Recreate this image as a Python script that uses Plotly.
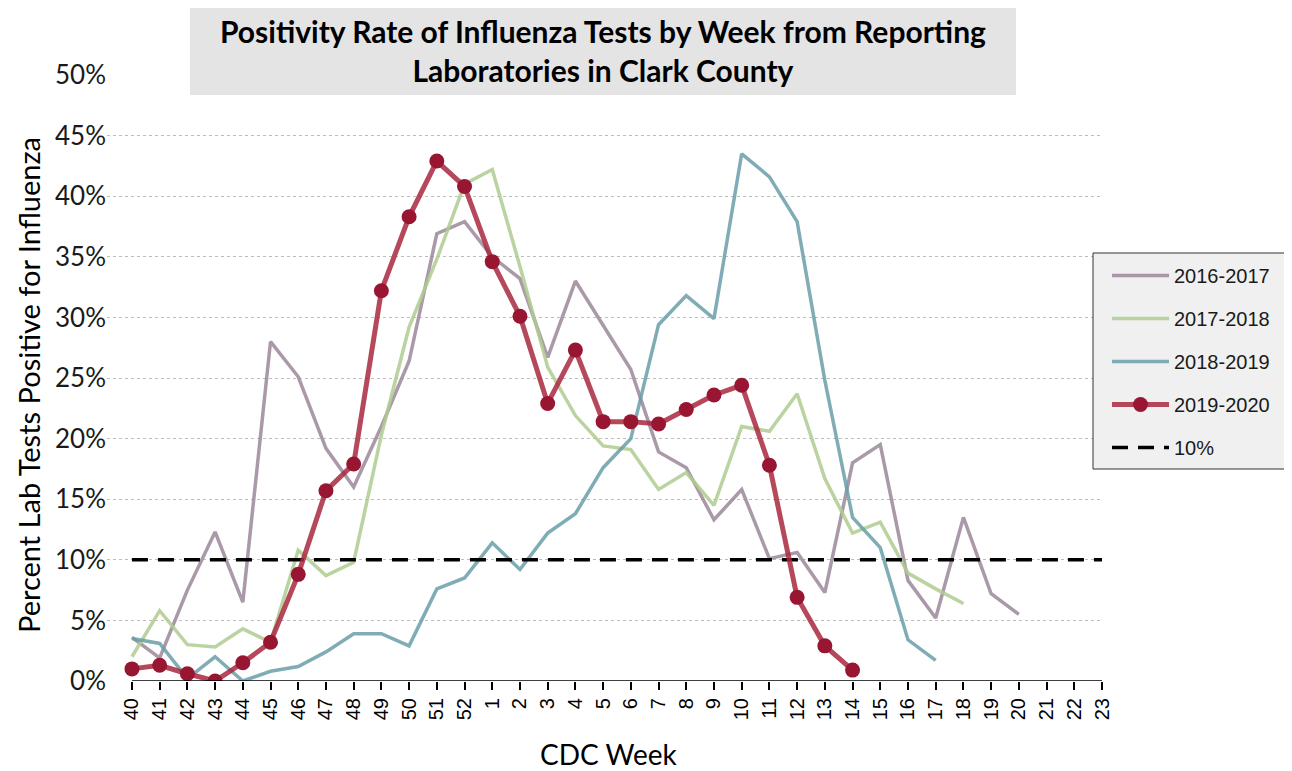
import plotly.graph_objects as go

weeks = [str(w) for w in list(range(40, 53)) + list(range(1, 24))]

flu_2016_2017 = [3.6, 1.9, 7.5, 12.3, 6.5, 28.0, 25.1, 19.2, 16.0, 21.0, 26.4, 36.9, 37.9,
                 35.0, 33.2, 26.7, 33.0, 29.4, 25.7, 18.9, 17.6, 13.3, 15.8, 10.1, 10.6,
                 7.3, 18.0, 19.5, 8.3, 5.2, 13.5, 7.2, 5.5]
flu_2017_2018 = [2.0, 5.8, 3.0, 2.8, 4.3, 3.2, 10.8, 8.7, 9.8, 20.3, 29.2, 34.8, 41.0,
                 42.2, 34.2, 25.9, 21.9, 19.4, 19.1, 15.8, 17.2, 14.5, 21.0, 20.6, 23.7,
                 16.7, 12.2, 13.1, 8.9, 7.6, 6.4]
flu_2018_2019 = [3.5, 3.1, 0.2, 2.0, 0.0, 0.8, 1.2, 2.4, 3.9, 3.9, 2.9, 7.6, 8.5,
                 11.4, 9.2, 12.2, 13.8, 17.6, 20.0, 29.4, 31.8, 29.9, 43.5, 41.6, 37.9,
                 24.8, 13.5, 11.0, 3.4, 1.7]
flu_2019_2020 = [1.0, 1.3, 0.6, 0.0, 1.5, 3.2, 8.8, 15.7, 17.9, 32.2, 38.3, 42.9, 40.8,
                 34.6, 30.1, 22.9, 27.3, 21.4, 21.4, 21.2, 22.4, 23.6, 24.4, 17.8, 6.9,
                 2.9, 0.9]
threshold = 10

y_ticks = list(range(0, 51, 5))
y_ticktext = [f"{v}%" for v in y_ticks]

title_text = "Positivity Rate of Influenza Tests by Week from Reporting<br>Laboratories in Clark County"
x_title = "CDC Week"
y_title = "Percent Lab Tests Positive for Influenza"

ARIAL = "Liberation Sans, Arial, sans-serif"
LATO = "Lato, sans-serif"

# plot area in screen pixels (page has an 8px body margin)
PX_L, PX_R, PX_T, PX_B = 107, 1102, 75, 681


def px(x):
    return (x - PX_L) / (PX_R - PX_L)


def py(y):
    return (PX_B - y) / (PX_B - PX_T)


fig = go.Figure()


def season(name, values, color, rank):
    return go.Scatter(
        x=weeks[: len(values)],
        y=values,
        name=name,
        mode="lines",
        line=dict(color=color, width=3.5),
        opacity=0.85,
        legendgroup=name,
        legendrank=rank,
        hoverinfo="skip",
    )


fig.add_trace(season("2016-2017", flu_2016_2017, "#9C889B", 1))
fig.add_trace(season("2017-2018", flu_2017_2018, "#B0CC90", 2))
fig.add_trace(season("2018-2019", flu_2018_2019, "#6B9FA9", 3))
fig.add_trace(
    go.Scatter(
        x=[weeks[0], weeks[-1]],
        y=[threshold, threshold],
        name="10%",
        mode="lines",
        line=dict(color="black", width=3.5, dash="16px,10px"),
        legendgroup="10%",
        legendrank=5,
        hoverinfo="skip",
    )
)
fig.add_trace(
    go.Scatter(
        x=weeks[: len(flu_2019_2020)],
        y=flu_2019_2020,
        name="2019-2020",
        mode="lines+markers",
        line=dict(color="rgba(168,40,62,0.85)", width=5),
        marker=dict(color="#991633", size=15),
        legendgroup="2019-2020",
        legendrank=4,
        hoverinfo="skip",
    )
)

# x axis line only spans the category range (40 .. 23)
fig.add_shape(type="line", xref="x", yref="y", x0=0, x1=len(weeks) - 1, y0=0, y1=0,
              line=dict(color="black", width=1.5), layer="above")

# grey title box
fig.add_shape(type="rect", xref="paper", yref="paper",
              x0=px(190), x1=px(1016), y0=py(95), y1=py(4),
              fillcolor="#E4E4E4", line=dict(width=0), layer="above")
fig.add_annotation(
    text=title_text,
    xref="paper", yref="paper",
    x=px(603), y=py(51),
    xanchor="center", yanchor="middle",
    showarrow=False,
    font=dict(family=LATO, size=30, color="black", weight="bold"),
    align="center",
)

# axis titles
fig.add_annotation(
    text=x_title, xref="paper", yref="paper",
    x=px(608), y=py(754), xanchor="center", yanchor="middle",
    showarrow=False, font=dict(family=LATO, size=28, color="black"),
)
fig.add_annotation(
    text=y_title, xref="paper", yref="paper",
    x=px(28), y=py(385), xanchor="center", yanchor="middle", textangle=-90,
    showarrow=False, font=dict(family=LATO, size=29, color="black"),
)

# legend frame (drawn as a shape so its size matches the original)
fig.add_shape(type="rect", xref="paper", yref="paper",
              x0=px(1093), x1=px(1291), y0=py(469), y1=py(253),
              fillcolor="#F0F0F0", line=dict(color="#333333", width=1), layer="above")

fig.update_layout(
    width=1284,
    height=763,
    margin=dict(l=PX_L - 8, r=1292 - PX_R, t=PX_T - 8, b=771 - PX_B),
    plot_bgcolor="white",
    paper_bgcolor="white",
    showlegend=True,
    legend=dict(
        x=px(1107),
        y=py(256),
        xanchor="left",
        yanchor="top",
        bgcolor="rgba(0,0,0,0)",
        borderwidth=0,
        font=dict(family=ARIAL, size=20, color="#1a1a1a"),
        itemwidth=57,
        tracegroupgap=14,
    ),
    xaxis=dict(
        type="category",
        categoryorder="array",
        categoryarray=weeks,
        range=[-0.9, len(weeks) - 1],
        automargin=False,
        showgrid=False,
        showline=False,
        zeroline=False,
        ticks="outside",
        ticklen=8,
        tickwidth=1.5,
        tickcolor="black",
        tickangle=-90,
        tickfont=dict(family=ARIAL, size=20, color="black"),
    ),
    yaxis=dict(
        range=[0, 50],
        tickvals=y_ticks,
        ticktext=y_ticktext,
        automargin=False,
        showgrid=True,
        gridcolor="#BDBDBD",
        griddash="dot",
        gridwidth=1,
        zeroline=False,
        showline=False,
        ticks="",
        tickfont=dict(family=LATO, size=26, color="#1a1a1a"),
    ),
)

fig.write_html("out.html")
